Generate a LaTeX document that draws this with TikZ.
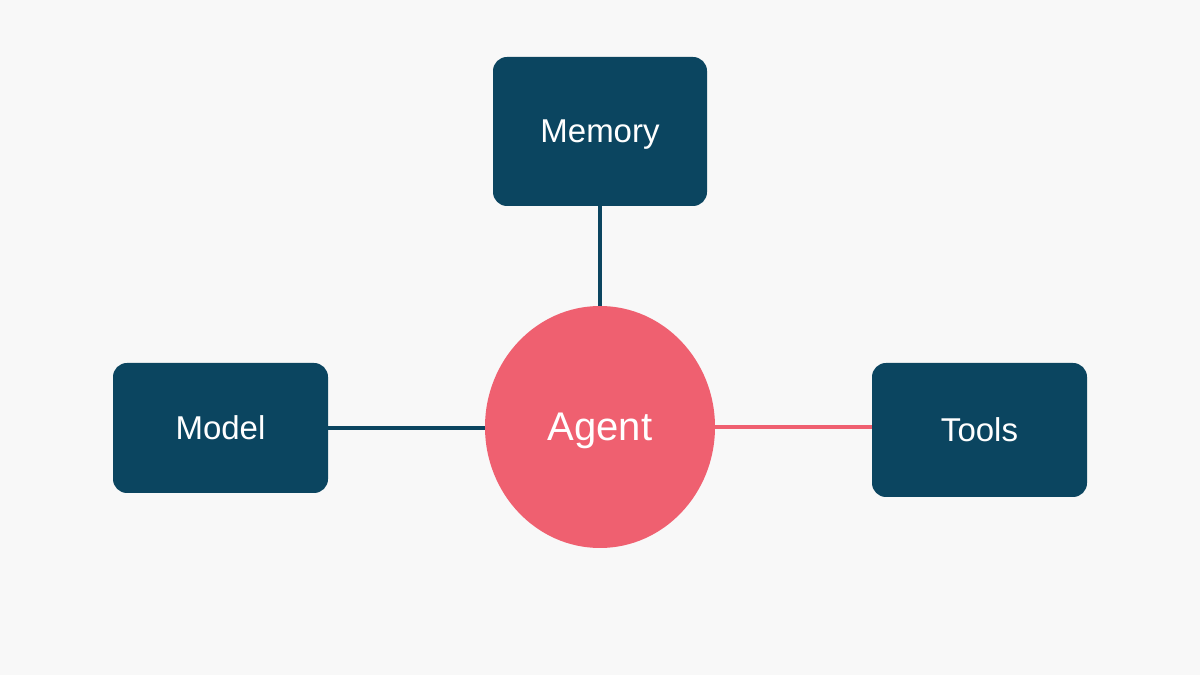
\documentclass[tikz,border=0pt]{standalone}
\usepackage{fontspec}
\setmainfont{Liberation Sans}
\usetikzlibrary{shapes.geometric}
\definecolor{bgc}{HTML}{F8F8F8}
\definecolor{teal}{HTML}{0B4560}
\definecolor{coral}{HTML}{EF6070}
\tikzset{
  box/.style={draw=none, fill=teal, rounded corners=14pt, text=white, inner sep=0pt, text depth=0pt,
    font=\fontsize{33}{38}\selectfont},
  hub/.style={ellipse, fill=coral, text=white, inner sep=0pt, text depth=0pt, minimum width=230pt, minimum height=242pt,
    font=\fontsize{40}{46}\selectfont},
  link/.style={line width=3.5pt}
}
\begin{document}
\begin{tikzpicture}[x=1pt,y=1pt]
\fill[bgc] (0,0) rectangle (1200,675);
\useasboundingbox (0,0) rectangle (1200,675);
\node[box, minimum width=214pt, minimum height=149pt] (memory) at (600,543.5) {Memory};
\node[box, minimum width=215pt, minimum height=130pt] (model) at (220.5,247) {Model};
\node[box, minimum width=215pt, minimum height=134pt] (tools) at (979.5,245) {Tools};
\node[hub] (agent) at (600,248) {Agent};
\draw[link, teal] (memory.south) -- (agent.north);
\draw[link, teal] (model.east) -- (model.east -| agent.west);
\draw[link, coral] (agent.east) -- (agent.east -| tools.west);
\end{tikzpicture}
\end{document}
